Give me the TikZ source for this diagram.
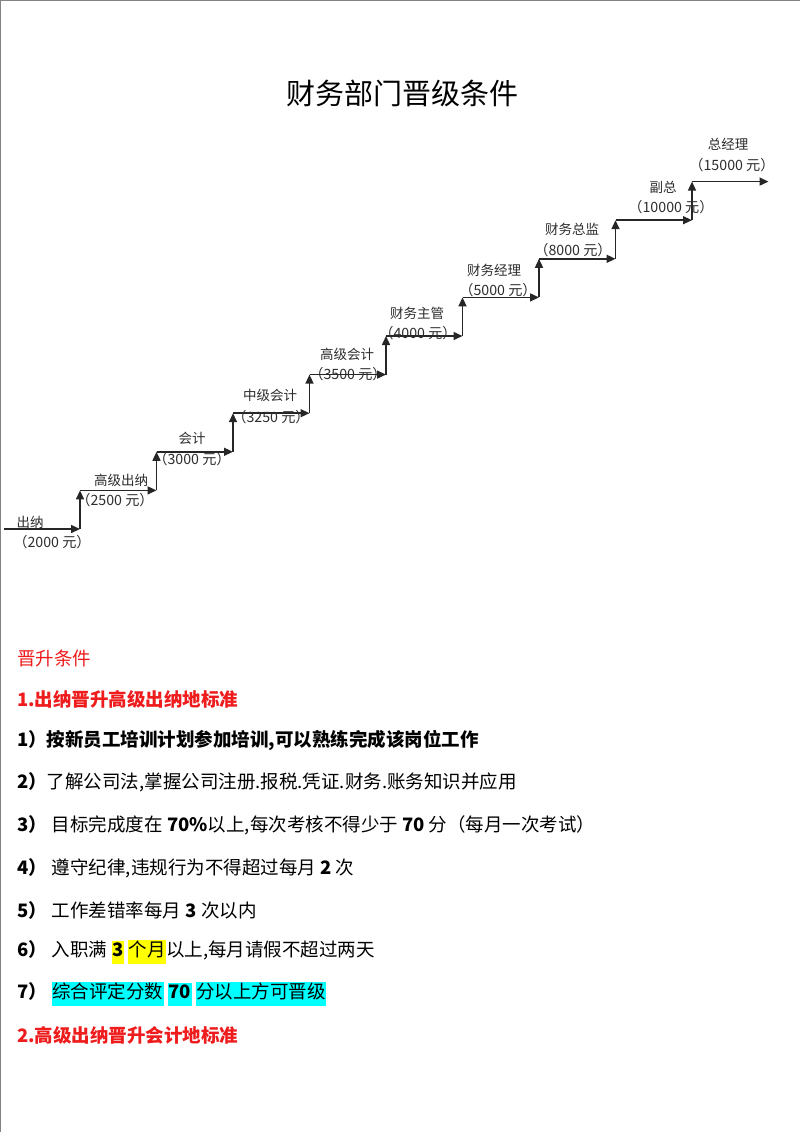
\documentclass[tikz,border=0pt]{standalone}
\usepackage{fontspec}
\setmainfont{Noto Sans CJK SC}
\usetikzlibrary{arrows.meta}
\definecolor{hdred}{RGB}{238,28,28}
\definecolor{hlcyan}{RGB}{0,255,255}
\definecolor{hlyellow}{RGB}{255,255,0}
\definecolor{lbl}{RGB}{45,45,45}
\definecolor{pageedge}{RGB}{130,130,130}
\setlength{\fboxsep}{0.5pt}
\tikzset{
  stair/.style={draw=black!85, line width=1.5pt, -{Triangle[length=9pt,width=8pt]}},
  stepname/.style={inner sep=0pt, text=lbl, font=\fontsize{13.5}{16}\selectfont},
  salary/.style={inner sep=0pt, text=lbl, font=\fontsize{14.2}{16}\selectfont},
  bodyline/.style={anchor=west, inner sep=0pt, font=\fontsize{18.5}{22}\selectfont},
  redhead/.style={anchor=west, inner sep=0pt, text=hdred, font=\fontsize{18.5}{22}\selectfont\bfseries},
  redtitle/.style={anchor=west, inner sep=0pt, text=hdred, font=\fontsize{18.5}{22}\selectfont},
  pagetitle/.style={inner sep=0pt, font=\fontsize{29}{34}\selectfont},
}
\begin{document}
\begin{tikzpicture}[x=1pt,y=-1pt]
\useasboundingbox (0,0) rectangle (800,1132);
\fill[white] (0,0) rectangle (800,1132);
\draw[pageedge, line width=2.5pt] (0,1132) -- (0,0) -- (800,0);

% title
\node[pagetitle] (title) at (402.5,93) {财务部门晋级条件};

% staircase coordinates
\coordinate (h0) at (4,529);
\foreach \k in {1,...,10} {
  \coordinate (b\k) at ({80+76.5*(\k-1)}, {529-38.6*(\k-1)});
  \coordinate (t\k) at ({80+76.5*(\k-1)}, {529-38.6*\k});
}
\draw[stair] (h0) -- (b1);
\foreach \k [evaluate=\k as \n using int(\k+1)] in {1,...,9} {
  \draw[stair] (b\k) -- (t\k);
  \draw[stair] (t\k) -- (b\n);
}

% step labels
\node[stepname] (n1)  at (30,522)  {出纳};
\node[salary]   (s1)  at (52,542)  {（2000 元）};
\node[stepname] (n2)  at (121,480) {高级出纳};
\node[salary]   (s2)  at (115,500) {（2500 元）};
\node[stepname] (n3)  at (192,438) {会计};
\node[salary]   (s3)  at (192,459) {（3000 元）};
\node[stepname] (n4)  at (270,395) {中级会计};
\node[salary]   (s4)  at (271,417) {（3250 元）};
\node[stepname] (n5)  at (347,354) {高级会计};
\node[salary]   (s5)  at (348,374) {（3500 元）};
\node[stepname] (n6)  at (417,313) {财务主管};
\node[salary]   (s6)  at (418,333) {（4000 元）};
\node[stepname] (n7)  at (494,270) {财务经理};
\node[salary]   (s7)  at (498,290) {（5000 元）};
\node[stepname] (n8)  at (572,229) {财务总监};
\node[salary]   (s8)  at (573,250) {（8000 元）};
\node[stepname] (n9)  at (663,187) {副总};
\node[salary]   (s9)  at (671,207) {（10000 元）};
\node[stepname] (n10) at (728,144) {总经理};
\node[salary]   (s10) at (732,165) {（15000 元）};

% conditions text
\node[redtitle] (c0) at (17,658) {晋升条件};
\node[redhead]  (c1) at (17,699) {1.出纳晋升高级出纳地标准};
\node[bodyline] (l1) at (17,741) {\bfseries 1）按新员工培训计划参加培训,可以熟练完成该岗位工作};
\node[bodyline] (l2) at (17,782) {\textbf{2）}了解公司法,掌握公司注册.报税.凭证.财务.账务知识并应用};
\node[bodyline] (l3) at (17,825) {\textbf{3）}\hspace{5pt}目标完成度在 \textbf{70\%}以上,每次考核不得少于 \textbf{70} 分（每月一次考试）};
\node[bodyline] (l4) at (17,868) {\textbf{4）}\hspace{5pt}遵守纪律,违规行为不得超过每月 \textbf{2} 次};
\node[bodyline] (l5) at (17,910) {\textbf{5）}\hspace{5pt}工作差错率每月 \textbf{3} 次以内};
\node[bodyline] (l6) at (17,952) {\textbf{6）}\hspace{5pt}入职满 \colorbox{hlyellow}{\strut\textbf{3}} \colorbox{hlyellow}{\strut 个月}以上,每月请假不超过两天};
\node[bodyline] (l7) at (17,994) {\textbf{7）}\hspace{5pt}\colorbox{hlcyan}{\strut 综合评定分数} \colorbox{hlcyan}{\strut\textbf{70}} \colorbox{hlcyan}{\strut 分以上方可晋级}};
\node[redhead]  (c2) at (17,1035) {2.高级出纳晋升会计地标准};
\end{tikzpicture}
\end{document}
